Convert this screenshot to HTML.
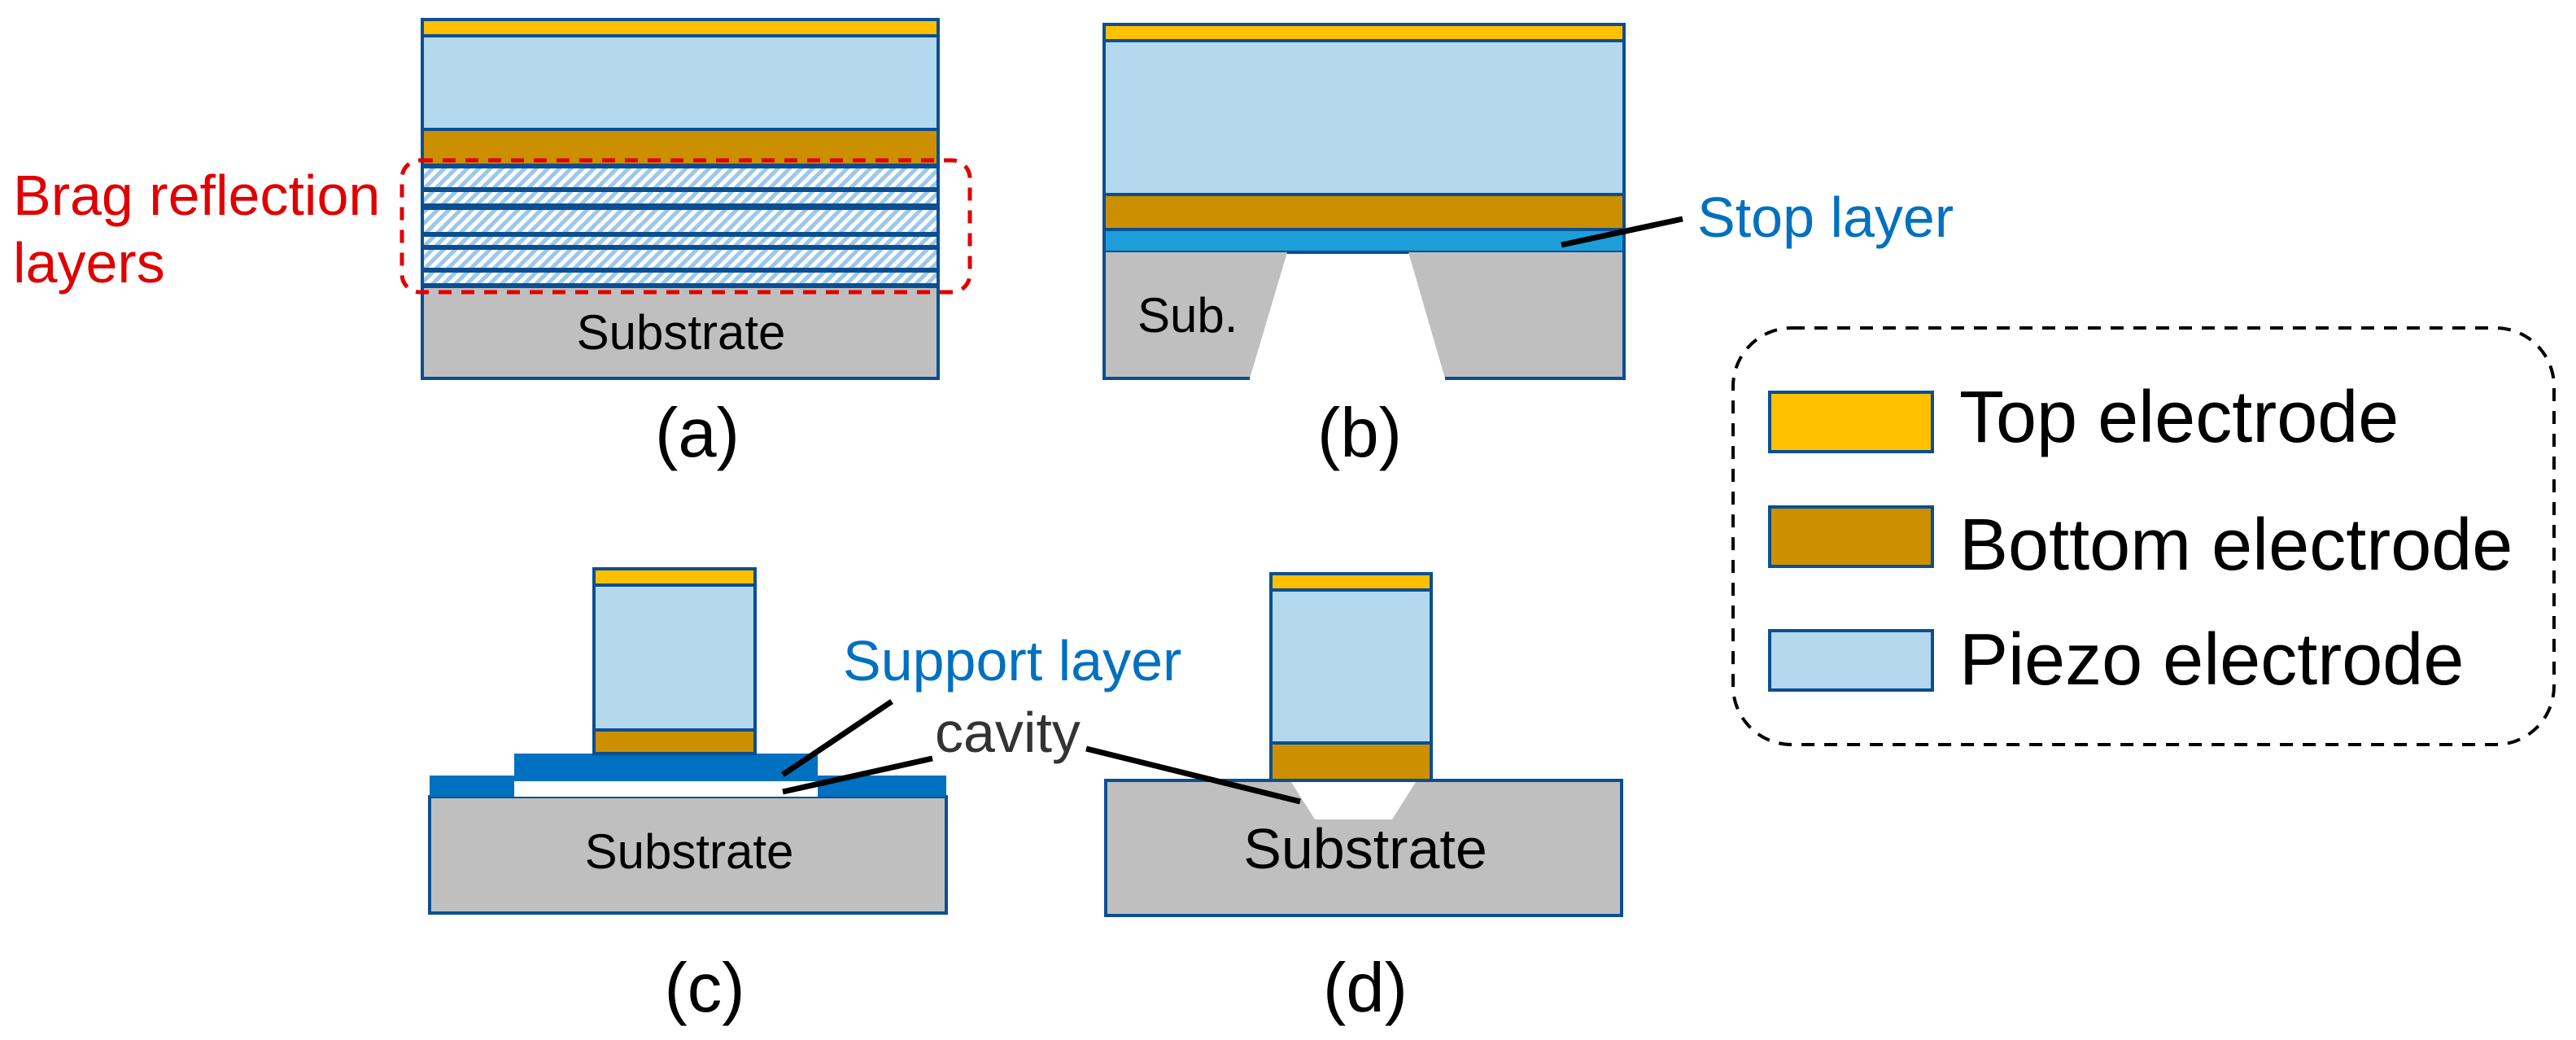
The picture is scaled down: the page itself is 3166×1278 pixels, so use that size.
<!DOCTYPE html>
<html><head><meta charset="utf-8"><style>
html,body{margin:0;padding:0;background:#fff;}
svg{display:block;}
text{font-family:"Liberation Sans",Arial,sans-serif;}
</style></head><body>
<svg width="3166" height="1278" viewBox="0 0 3166 1278" xmlns="http://www.w3.org/2000/svg">
<defs>
<pattern id="h" patternUnits="userSpaceOnUse" width="10" height="10" patternTransform="rotate(45)">
<rect width="10" height="10" fill="#fff"/><rect width="5" height="10" fill="#9cc8e8"/>
</pattern>
</defs>
<g stroke="#0B4F91" stroke-width="4">
<!-- (a) -->
<rect x="519" y="24" width="634" height="20" fill="#FFC000"/>
<rect x="519" y="44" width="634" height="115" fill="#B4D8EE"/>
<rect x="519" y="159" width="634" height="44" fill="#CC8F00"/>
<rect x="519" y="205" width="634" height="27" fill="url(#h)"/>
<rect x="519" y="234" width="634" height="18" fill="url(#h)"/>
<rect x="519" y="256" width="634" height="31" fill="url(#h)"/>
<rect x="519" y="289" width="634" height="14" fill="url(#h)"/>
<rect x="519" y="305" width="634" height="26" fill="url(#h)"/>
<rect x="519" y="333" width="634" height="17" fill="url(#h)"/>
<rect x="519" y="352" width="634" height="113" fill="#BFBFBF"/>
<!-- (b) -->
<rect x="1357" y="30" width="639" height="20" fill="#FFC000"/>
<rect x="1357" y="50" width="639" height="189" fill="#B4D8EE"/>
<rect x="1357" y="239" width="639" height="43" fill="#CC8F00"/>
<rect x="1357" y="282" width="639" height="28" fill="#1E9ED9"/>
</g>
<polygon points="1357,310 1582,310 1536,465 1357,465" fill="#BFBFBF"/>
<polygon points="1731,310 1996,310 1996,465 1776,465" fill="#BFBFBF"/>
<path d="M1357,310 V465 H1536 M1776,465 H1996 V310" fill="none" stroke="#0B4F91" stroke-width="4"/>
<!-- (c) -->
<rect x="528" y="979" width="635" height="143" fill="#BFBFBF" stroke="#0B4F91" stroke-width="4"/>
<rect x="528" y="953" width="104" height="26" fill="#0070C0"/>
<rect x="1005" y="953" width="158" height="26" fill="#0070C0"/>
<rect x="632" y="926" width="373" height="34" fill="#0070C0"/>
<rect x="632" y="960" width="373" height="19" fill="#fff"/>
<g stroke="#0B4F91" stroke-width="4">
<rect x="730" y="699" width="198" height="20" fill="#FFC000"/>
<rect x="730" y="719" width="198" height="178" fill="#B4D8EE"/>
<rect x="730" y="897" width="198" height="29" fill="#CC8F00"/>
<!-- (d) -->
<rect x="1359" y="959" width="634" height="166" fill="#BFBFBF"/>
<rect x="1562" y="705" width="197" height="20" fill="#FFC000"/>
<rect x="1562" y="725" width="197" height="188" fill="#B4D8EE"/>
<rect x="1562" y="913" width="197" height="46" fill="#CC8F00"/>
</g>
<polygon points="1587,961 1740,961 1711,1007 1616,1007" fill="#fff"/>
<!-- leaders -->
<g stroke="#000" stroke-width="7">
<line x1="1919" y1="301" x2="2068" y2="269"/>
<line x1="1096" y1="862" x2="962" y2="952"/>
<line x1="1146" y1="932" x2="962" y2="973"/>
<line x1="1335" y1="920" x2="1598" y2="985"/>
</g>
<!-- red dashed box -->
<rect x="494" y="197" width="698" height="162" rx="22" fill="none" stroke="#E00000" stroke-width="5" stroke-dasharray="16,12"/>
<!-- legend -->
<rect x="2130" y="403" width="1009" height="512" rx="72" fill="none" stroke="#000" stroke-width="4" stroke-dasharray="16,12"/>
<g stroke="#0B4F91" stroke-width="4">
<rect x="2175" y="482" width="200" height="73" fill="#FFC000"/>
<rect x="2175" y="623" width="200" height="73" fill="#CC8F00"/>
<rect x="2175" y="775" width="200" height="73" fill="#B4D8EE"/>
</g>
<g font-size="90" fill="#000">
<text x="2408" y="543">Top electrode</text>
<text x="2408" y="700">Bottom electrode</text>
<text x="2408" y="841">Piezo electrode</text>
</g>
<!-- labels -->
<text x="16" y="264" font-size="70" fill="#E00000">Brag reflection</text>
<text x="16" y="347" font-size="70" fill="#E00000">layers</text>
<text x="837" y="429" font-size="60" text-anchor="middle">Substrate</text>
<text x="1398" y="408" font-size="60">Sub.</text>
<text x="2086" y="291" font-size="70" fill="#0070C0">Stop layer</text>
<text x="1036" y="836" font-size="70" fill="#0070C0">Support layer</text>
<text x="1149" y="924" font-size="70" fill="#333">cavity</text>
<text x="847" y="1067" font-size="60" text-anchor="middle">Substrate</text>
<text x="1678" y="1067" font-size="70" text-anchor="middle">Substrate</text>
<g font-size="85" text-anchor="middle">
<text x="857" y="561">(a)</text>
<text x="1671" y="561">(b)</text>
<text x="866" y="1243">(c)</text>
<text x="1678" y="1243">(d)</text>
</g>
</svg>
</body></html>
